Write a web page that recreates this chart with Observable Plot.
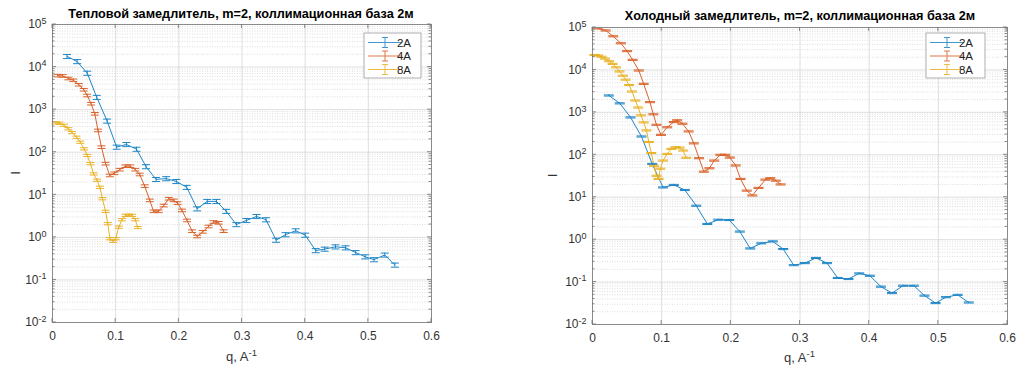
<!DOCTYPE html>
<html><head><meta charset="utf-8">
<script src="https://cdn.jsdelivr.net/npm/d3@7"></script>
<script src="https://cdn.jsdelivr.net/npm/@observablehq/plot@0.6"></script>
<style>
body{margin:0;background:#fff;font-family:"Liberation Sans",Arial,Helvetica,sans-serif;}
#wrap{position:relative;width:1019px;height:370px;overflow:hidden;}
.panel{position:absolute;top:0;}
.title{position:absolute;font-weight:bold;font-size:12.7px;color:#000;white-space:nowrap;transform:translateX(-50%);line-height:14px;}
</style></head><body><div id="wrap"></div>
<script>
// ---------- data ----------
const seriesNames = ["2A", "4A", "8A"];
const seriesColors = ["#1f86c6", "#d9622b", "#e9b225"];
const titles = ["Тепловой замедлитель, m=2, коллимационная база 2м", "Холодный замедлитель, m=2, коллимационная база 2м"];
const xLabel = "q, A";
const xLabelSup = "-1";
const yLabel = "I";
const xTicks = [0, 0.1, 0.2, 0.3, 0.4, 0.5, 0.6];
const xTickLabels = ["0", "0.1", "0.2", "0.3", "0.4", "0.5", "0.6"];
const yTicks = [1e-2, 1e-1, 1e0, 1e1, 1e2, 1e3, 1e4, 1e5];
const yTickExponents = ["-2", "-1", "0", "1", "2", "3", "4", "5"];

// Left panel (thermal moderator)
const qL2A = [0.023,0.039,0.055,0.070,0.0865,0.1015,0.117,0.133,0.148,0.164,0.180,0.196,0.2125,0.229,0.245,0.2595,0.275,0.291,0.307,0.323,0.338,0.354,0.369,0.385,0.400,0.4167,0.431,0.448,0.464,0.480,0.495,0.509,0.526,0.542];
const iL2A = [17800,13500,7200,1950,540,132,152,118,46,23,24,20.6,15,4.7,7.0,7.0,4.1,2.0,2.5,3.1,2.6,0.86,1.16,1.43,1.13,0.49,0.53,0.60,0.57,0.44,0.35,0.30,0.385,0.224];
const qL4A = [0.008,0.016,0.025,0.033,0.0416,0.0495,0.055,0.061,0.067,0.072,0.0775,0.084,0.0907,0.098,0.1065,0.1155,0.123,0.131,0.138,0.146,0.154,0.160,0.168,0.176,0.184,0.192,0.198,0.205,0.213,0.221,0.229,0.238,0.247,0.255,0.263,0.271];
const iL4A = [6300,6200,5400,4900,3850,2940,2150,1380,800,325,132,54,28.5,32,39,47,47,39,30,16,7.4,4.1,4.1,5.6,8.1,7.4,6.4,4.3,2.5,1.4,1.05,1.35,1.8,2.3,2.2,1.4];
const qL8A = [0.005,0.011,0.018,0.025,0.031,0.038,0.044,0.050,0.055,0.060,0.065,0.0705,0.075,0.079,0.084,0.0875,0.091,0.096,0.100,0.105,0.110,0.1155,0.121,0.126,0.131,0.135];
const iL8A = [490,480,430,355,290,225,172,120,84,54,31,22,15,8.1,4.1,2.1,0.93,0.81,0.93,1.74,2.6,3.3,3.3,3.3,2.6,1.7];
const errL = [0.11, 0.07, 0.06];

// Right panel (cold moderator)
const qR2A = [0.0236,0.0395,0.055,0.0708,0.0863,0.102,0.1176,0.1335,0.150,0.166,0.182,0.1976,0.213,0.228,0.244,0.2607,0.2757,0.291,0.307,0.323,0.339,0.3546,0.370,0.3856,0.401,0.417,0.433,0.449,0.4646,0.480,0.496,0.511,0.528,0.544];
const iR2A = [2500,1630,760,270,61,17,19.5,14.8,6.3,2.34,2.95,2.9,1.55,0.62,0.82,0.91,0.60,0.25,0.28,0.37,0.28,0.125,0.118,0.16,0.141,0.078,0.055,0.082,0.082,0.048,0.032,0.044,0.050,0.033];
const qR4A = [0.008,0.019,0.030,0.041,0.050,0.058,0.067,0.074,0.083,0.088,0.0925,0.099,0.108,0.1176,0.1224,0.130,0.139,0.1465,0.154,0.161,0.169,0.176,0.185,0.192,0.1985,0.207,0.214,0.223,0.231,0.240,0.250,0.257,0.265,0.272];
const iR4A = [95000,85000,62000,42500,27700,17300,9700,4700,1740,900,510,295,445,590,650,540,355,186,83,40,48,73,100,100,86,56,27,14.3,11,16.6,26,28,24.6,20];
const qR8A = [0.003,0.008,0.013,0.018,0.024,0.029,0.034,0.039,0.044,0.048,0.053,0.057,0.062,0.066,0.070,0.074,0.078,0.0814,0.085,0.089,0.0925,0.0955,0.098,0.102,0.108,0.114,0.120,0.126,0.131,0.1355];
const iR8A = [22500,21900,20500,18500,16000,13900,11500,9200,7300,5900,4400,3100,1900,1300,850,580,375,200,110,55,32,27,47,73,105,138,150,148,126,85];
const errR = [0.03, 0.03, 0.03];

// ---------- drawing ----------
const FONT = '"Liberation Sans", Arial, Helvetica, sans-serif';
const capSymbol = {draw(ctx, size) { const r = Math.sqrt(size / Math.PI); ctx.moveTo(-r, 0); ctx.lineTo(r, 0); }};
const minorY = [];
for (let e = -2; e < 5; e++) for (let m = 2; m < 10; m++) minorY.push(m * Math.pow(10, e));

function makePanel(cfg) {
  const rows = [];
  cfg.series.forEach(([qs, is], k) => qs.forEach((q, i) => rows.push({
    q, I: is[i], lo: is[i] * (1 - cfg.err[k]), hi: is[i] * (1 + cfg.err[k]), s: seriesNames[k]
  })));
  const chart = Plot.plot({
    width: cfg.width, height: 370,
    marginLeft: cfg.ml, marginRight: cfg.mr, marginTop: cfg.mt, marginBottom: cfg.mb,
    style: {fontFamily: FONT, fontSize: "12px", color: "#333", background: "transparent"},
    x: {domain: [0, 0.6], ticks: xTicks, tickSize: 0, tickPadding: 9, label: null,
        tickFormat: d => xTickLabels[xTicks.findIndex(t => Math.abs(t - d) < 1e-9)]},
    y: {type: "log", domain: [1e-2, 1e5], ticks: yTicks, tickSize: 0, tickPadding: 6, label: null,
        tickFormat: d => "10^" + yTickExponents[Math.round(Math.log10(d)) + 2]},
    color: {domain: seriesNames, range: seriesColors},
    marks: [
      Plot.ruleY(minorY, {stroke: "#d4d4d4", strokeDasharray: "1,1.5", strokeWidth: 0.8}),
      Plot.ruleY(yTicks, {stroke: "#d6d6d6", strokeWidth: 0.8}),
      Plot.ruleX(xTicks, {stroke: "#d6d6d6", strokeWidth: 0.8}),
      Plot.ruleX(rows, {x: "q", y1: "lo", y2: "hi", stroke: "s", strokeWidth: 1}),
      Plot.line(rows, {x: "q", y: "I", z: "s", stroke: "s", strokeWidth: 1}),
      Plot.dot(rows, {x: "q", y: "lo", stroke: "s", symbol: capSymbol, r: cfg.capR, strokeWidth: 1}),
      Plot.dot(rows, {x: "q", y: "hi", stroke: "s", symbol: capSymbol, r: cfg.capR, strokeWidth: 1}),
      Plot.frame({stroke: "#8a8a8a", strokeWidth: 1})
    ]
  });
  const svg = d3.select(chart);
  // superscript exponents on y tick labels
  svg.selectAll("text").each(function() {
    const t = this.textContent;
    if (/^10\^/.test(t)) {
      const e = t.slice(3);
      const sel = d3.select(this);
      sel.text("10");
      sel.append("tspan").attr("dy", "-0.5em").attr("font-size", "9px").text(e);
    }
  });
  const sx = chart.scale("x"), sy = chart.scale("y");
  const L = cfg.ml, R = cfg.width - cfg.mr, T = cfg.mt, B = 370 - cfg.mb;
  const g = svg.append("g").attr("stroke", "#6e6e6e").attr("stroke-width", 0.8);
  xTicks.forEach(v => {
    const x = sx.apply(v);
    g.append("line").attr("x1", x).attr("x2", x).attr("y1", B).attr("y2", B - 4);
    g.append("line").attr("x1", x).attr("x2", x).attr("y1", T).attr("y2", T + 4);
  });
  yTicks.forEach(v => {
    const y = sy.apply(v);
    g.append("line").attr("x1", L).attr("x2", L + 4).attr("y1", y).attr("y2", y);
    g.append("line").attr("x1", R).attr("x2", R - 4).attr("y1", y).attr("y2", y);
  });
  minorY.forEach(v => {
    const y = sy.apply(v);
    g.append("line").attr("x1", L).attr("x2", L + 2.5).attr("y1", y).attr("y2", y);
    g.append("line").attr("x1", R).attr("x2", R - 2.5).attr("y1", y).attr("y2", y);
  });
  // axis labels
  const xl = svg.append("text").attr("x", (L + R) / 2).attr("y", cfg.xLabelY).attr("text-anchor", "middle")
    .attr("font-family", FONT).attr("font-size", "13px").attr("fill", "#333").text(xLabel);
  xl.append("tspan").attr("dy", "-0.5em").attr("font-size", "9.5px").text(xLabelSup);
  svg.append("text").attr("transform", `translate(${cfg.yLabelX},${(T + B) / 2}) rotate(-90)`)
    .attr("text-anchor", "middle").attr("font-family", FONT).attr("font-size", "13px").attr("fill", "#333").text(yLabel);
  // legend
  const lw = cfg.legendW, lh = 45;
  const lg = svg.append("g").attr("transform", `translate(${R - cfg.legendRight - lw},${T + cfg.legendTop})`);
  lg.append("rect").attr("width", lw).attr("height", lh).attr("fill", "#fff").attr("stroke", "#9a9a9a").attr("stroke-width", 0.8);
  seriesNames.forEach((name, k) => {
    const y = 9.5 + k * 13.5;
    const c = seriesColors[k];
    const e = lg.append("g").attr("stroke", c).attr("stroke-width", 1).attr("opacity", 0.85);
    e.append("line").attr("x1", 4).attr("x2", 38).attr("y1", y).attr("y2", y);
    e.append("line").attr("x1", 21).attr("x2", 21).attr("y1", y - 5).attr("y2", y + 5);
    e.append("line").attr("x1", 18).attr("x2", 24).attr("y1", y - 5).attr("y2", y - 5);
    e.append("line").attr("x1", 18).attr("x2", 24).attr("y1", y + 5).attr("y2", y + 5);
    lg.append("text").attr("x", 40).attr("y", y).attr("dy", "0.35em").attr("font-family", FONT)
      .attr("font-size", "11.5px").attr("fill", "#222").text(name);
  });
  return chart;
}

const wrap = document.getElementById("wrap");
const panels = [
  {left: 0, width: 510, ml: 52, mr: 79, mt: 24, mb: 48, capR: 4, err: errL,
   series: [[qL2A, iL2A], [qL4A, iL4A], [qL8A, iL8A]], xLabelY: 361, yLabelX: 20,
   legendW: 57, legendRight: 10, legendTop: 9, title: titles[0], titleX: 241, titleY: 7},
  {left: 510, width: 509, ml: 82, mr: 12, mt: 27, mb: 46, capR: 5, err: errR,
   series: [[qR2A, iR2A], [qR4A, iR4A], [qR8A, iR8A]], xLabelY: 362, yLabelX: 47,
   legendW: 59, legendRight: 22, legendTop: 6, title: titles[1], titleX: 800, titleY: 9}
];
panels.forEach(p => {
  const div = document.createElement("div");
  div.className = "panel";
  div.style.left = p.left + "px";
  div.appendChild(makePanel(p));
  wrap.appendChild(div);
  const t = document.createElement("div");
  t.className = "title";
  t.style.left = p.titleX + "px";
  t.style.top = p.titleY + "px";
  t.textContent = p.title;
  wrap.appendChild(t);
});
</script></body></html>
